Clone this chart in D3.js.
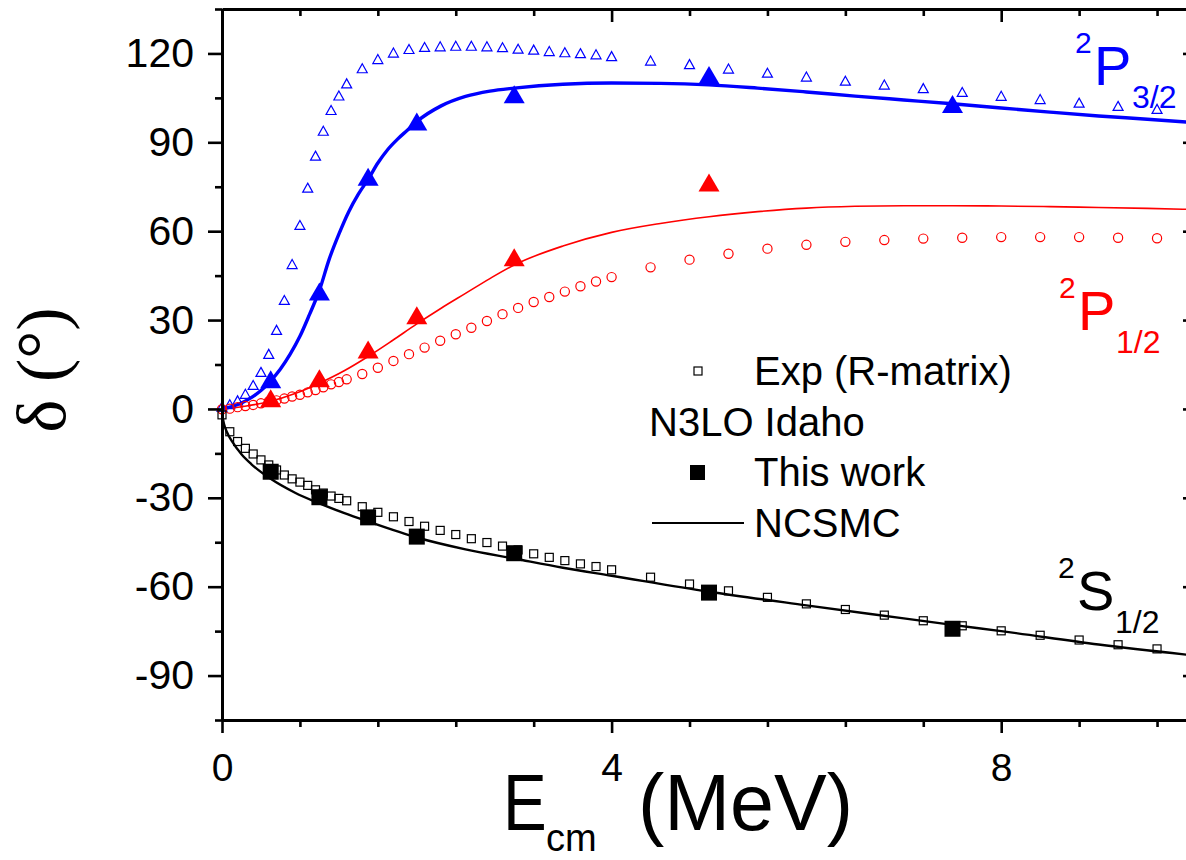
<!DOCTYPE html>
<html>
<head>
<meta charset="utf-8">
<script src="https://cdn.jsdelivr.net/npm/d3@7"></script>
<style>
	body { margin:0; background:#fff; }
	text { font-family: "Liberation Sans", Arial, sans-serif; }
</style>
</head>
<body>
<div id="chart-area"></div>
<script>
// phase shifts

// energy grid of the R-matrix points (MeV)
var expE = [0,0.08,0.16,0.24,0.32,0.40,0.48,0.56,0.64,0.72,0.80,0.88,0.96,1.04,1.12,1.20,1.28,
	1.44,1.60,1.76,1.92,2.08,2.24,2.40,2.56,2.72,2.88,3.04,3.20,3.36,3.52,3.68,3.84,
	4.0,4.4,4.8,5.2,5.6,6.0,6.4,6.8,7.2,7.6,8.0,8.4,8.8,9.2,9.6];
var expP32 = [0.8,1.6,2.9,5.1,8.1,12.5,18.6,26.7,36.8,48.9,62.1,74.7,85.5,93.9,100.9,105.8,109.9,
	115.0,118.1,120.3,121.5,122.2,122.4,122.6,122.6,122.4,122.1,121.6,121.3,120.8,120.4,120.1,119.7,
	119.1,117.6,116.4,114.9,113.5,112.2,110.8,109.5,108.3,107.0,105.7,104.6,103.4,102.3,101.3];
var expP12 = [-0.1,0.1,0.6,1.0,1.35,1.9,2.5,2.9,3.5,4.2,4.8,5.6,6.4,7.3,8.3,9.1,10.0,
	11.8,13.9,16.2,18.5,20.7,23.0,25.2,27.4,29.7,32.0,34.1,36.1,37.8,39.6,41.4,43.0,
	44.5,47.8,50.4,52.4,54.1,55.4,56.4,57.0,57.5,57.8,58.0,58.0,58.0,57.8,57.6];
var expS12 = [-2.0,-7.7,-11.0,-13.3,-15.2,-17.2,-18.9,-20.6,-22.3,-23.6,-24.7,-25.8,-27.3,-28.4,-29.4,-30.2,-31.0,
	-33.0,-34.9,-36.4,-38.0,-39.6,-41.0,-42.4,-43.8,-45.1,-46.3,-47.6,-48.9,-50.1,-51.2,-52.3,-53.2,
	-54.3,-56.8,-59.1,-61.4,-63.6,-65.8,-67.7,-69.6,-71.5,-73.2,-74.9,-76.4,-78.0,-79.6,-81.0];

// this work (N3LO Idaho)
var workE = [0.5,1.0,1.5,2.0,3.0,5.0,7.5];
var workP32 = [10.0,39.6,78.4,97.0,106.2,112.7,102.9];
var workP12 = [3.6,10.4,20.1,31.6,51.2,76.4];
var workS12 = [-21.2,-29.8,-36.6,-43.1,-48.7,-62.0,-74.2];

// NCSMC curves
var ncsmcP32E = [0,0.1,0.2,0.3,0.4,0.5,0.6,0.7,0.8,0.9,1.0,1.1,1.2,1.3,1.4,1.5,1.6,1.7,1.8,1.9,2.0,
	2.25,2.5,2.75,3.0,3.5,4.0,4.5,5.0,5.5,6.0,6.5,7.0,7.5,8.0,8.5,9.0,9.5,10];
var ncsmcP32 = [0,0.8,2.0,3.8,6.2,9.5,13.5,18.5,24.5,32,40,50.5,59,66.5,72.5,77.5,83,87.5,91,94,97,
	102.3,105.5,107.3,108.3,109.6,110.0,109.9,109.4,108.3,107.0,105.6,104.3,103.0,101.6,100.2,98.9,97.8,96.6];
var ncsmcP12E = [0,0.25,0.5,0.75,1.0,1.25,1.5,1.75,2.0,2.25,2.5,2.75,3.0,3.5,4.0,4.5,5.0,5.5,6.0,6.5,7.0,7.5,8.0,8.5,9.0,9.5,10];
var ncsmcP12 = [0,1.0,2.6,5.2,8.7,12.8,17.7,23.1,28.7,34.0,39.0,44.0,48.6,55.0,59.6,62.6,64.9,66.6,67.8,68.4,68.6,68.6,68.5,68.3,68.0,67.7,67.3];
var ncsmcS12E = [0.005,0.02,0.05,0.1,0.2,0.3,0.5,0.75,1.0,1.25,1.5,2.0,2.5,3.0,3.5,4.0,5.0,6.0,7.0,7.5,8.0,9.0,10];
var ncsmcS12 = [-2.5,-5,-7.8,-10.8,-15.3,-18.6,-23.6,-28.3,-31.9,-35.1,-38.0,-43.4,-47.4,-50.5,-53.6,-56.3,-61.7,-66.3,-70.7,-72.9,-75.0,-79.5,-83.3];

var xMajor = [0,4,8];
var yMajor = [-90,-60,-30,0,30,60,90,120];

var margin = { top:9, left:222 };
var width = 974;
var height = 711;

var svg = d3.select("#chart-area")
	.append("svg")
		.attr("width",1186)
		.attr("height",860);
svg.append("rect").attr("width",1186).attr("height",860).attr("fill","#fff");

var g = svg.append("g")
	.attr("transform","translate("+margin.left+","+margin.top+")");

var x = d3.scaleLinear().domain([0,10]).range([0,width]);
var y = d3.scaleLinear().domain([-105,135]).range([height,0]);

function zip(xs, ys){
	return ys.map(function(v,i){ return [xs[i], v]; });
}

// curves first
var line = d3.line()
	.x(function(d){ return x(d[0]); })
	.y(function(d){ return y(d[1]); })
	.curve(d3.curveMonotoneX);

g.append("path").attr("d",line(zip(ncsmcP12E,ncsmcP12)))
	.attr("fill","none").attr("stroke","#ff0000").attr("stroke-width",1.6);
g.append("path").attr("d",line(zip(ncsmcS12E,ncsmcS12)))
	.attr("fill","none").attr("stroke","#000").attr("stroke-width",2.4);
g.append("path").attr("d",line(zip(ncsmcP32E,ncsmcP32)))
	.attr("fill","none").attr("stroke","#0000ff").attr("stroke-width",3.4);

function tri(cx, cy, w, h){
	return "M"+cx+","+(cy-h/2)+"L"+(cx+w/2)+","+(cy+h/2)+"L"+(cx-w/2)+","+(cy+h/2)+"Z";
}

// experiment (open symbols)
g.selectAll(".expP32").data(zip(expE,expP32)).enter()
	.append("path")
		.attr("d",function(d){ return tri(x(d[0]),y(d[1]),10,9); })
		.attr("fill","none").attr("stroke","#0000ff").attr("stroke-width",1.2);

g.selectAll(".expP12").data(zip(expE,expP12)).enter()
	.append("circle")
		.attr("cx",function(d){ return x(d[0]); })
		.attr("cy",function(d){ return y(d[1]); })
		.attr("r",4.6)
		.attr("fill","none").attr("stroke","#ff0000").attr("stroke-width",1.2);

g.selectAll(".expS12").data(zip(expE,expS12)).enter()
	.append("rect")
		.attr("x",function(d){ return x(d[0])-4; })
		.attr("y",function(d){ return y(d[1])-4; })
		.attr("width",8).attr("height",8)
		.attr("fill","none").attr("stroke","#000").attr("stroke-width",1.2);

// this work (filled symbols)
g.selectAll(".workP32").data(zip(workE,workP32)).enter()
	.append("path")
		.attr("d",function(d){ return tri(x(d[0]),y(d[1]),21,18); })
		.attr("fill","#0000ff");

g.selectAll(".workP12").data(zip(workE,workP12)).enter()
	.append("path")
		.attr("d",function(d){ return tri(x(d[0]),y(d[1]),21,18); })
		.attr("fill","#ff0000");

g.selectAll(".workS12").data(zip(workE,workS12)).enter()
	.append("rect")
		.attr("x",function(d){ return x(d[0])-8; })
		.attr("y",function(d){ return y(d[1])-8; })
		.attr("width",16).attr("height",16)
		.attr("fill","#000");

// axes
var xMinor = d3.range(0,10.01,0.8).map(function(v){ return +v.toFixed(2); });
var yMinor = d3.range(-105,136,15);

function isMajorX(v){ return xMajor.indexOf(v) >= 0; }
function isMajorY(v){ return yMajor.indexOf(v) >= 0; }

var bottomAxis = d3.axisBottom(x).tickValues(xMinor)
	.tickSize(7).tickSizeOuter(0)
	.tickFormat(function(d){ return isMajorX(d) ? d : ""; });
var bottomG = g.append("g")
	.attr("transform","translate(0,"+height+")")
	.call(bottomAxis);

var topAxis = d3.axisBottom(x).tickValues(xMinor)
	.tickSize(7).tickSizeOuter(0).tickFormat("");
var topG = g.append("g").call(topAxis);

var leftAxis = d3.axisLeft(y).tickValues(yMinor)
	.tickSize(7).tickSizeOuter(0)
	.tickFormat(function(d){ return isMajorY(d) ? d : ""; });
var leftG = g.append("g").call(leftAxis);

// right axis, ticks point inward
var rightAxis = d3.axisLeft(y).tickValues(yMinor)
	.tickSize(7).tickSizeOuter(0).tickFormat("");
var rightG = g.append("g")
	.attr("transform","translate("+width+",0)")
	.call(rightAxis);

[bottomG, topG, leftG, rightG].forEach(function(a){
	a.select(".domain").attr("stroke","#000").attr("stroke-width",3);
	a.selectAll(".tick line").attr("stroke","#000").attr("stroke-width",2.6);
});
bottomG.selectAll(".tick line").attr("y2",function(d){ return isMajorX(d) ? 13 : 7; });
topG.selectAll(".tick line").attr("y2",function(d){ return isMajorX(d) ? 13 : 7; });
leftG.selectAll(".tick line").attr("x2",function(d){ return isMajorY(d) ? -14 : -7; });
rightG.selectAll(".tick line").attr("x2",function(d){ return isMajorY(d) ? -13 : -7; });

bottomG.selectAll(".tick text")
	.attr("font-size","39px").attr("font-family","Liberation Sans, Arial")
	.attr("fill","#000").attr("y",33).attr("dy","0.71em");
leftG.selectAll(".tick text")
	.attr("font-size","41px").attr("font-family","Liberation Sans, Arial")
	.attr("fill","#000").attr("x",-28).attr("dy","0.32em");

// axis titles
svg.append("text")
	.attr("transform","translate(65,370) rotate(-90)")
	.attr("text-anchor","middle")
	.attr("font-size","70px")
	.style("font-family","'Liberation Serif', 'Times New Roman', serif")
	.text("δ (°)");

var xt = svg.append("g");
xt.append("text").attr("transform","translate(503,830) scale(0.82,1)")
	.attr("font-size","80px").text("E");
xt.append("text").attr("x",546).attr("y",851).attr("font-size","38px").text("cm");
xt.append("text").attr("x",638).attr("y",830).attr("font-size","79px").text("(MeV)");

// channel labels
function channel(col, x0, base, big, sub){
	var t = svg.append("g").attr("fill",col);
	t.append("text").attr("x",x0).attr("y",base-32).attr("font-size","30px").text("2");
	t.append("text").attr("x",x0+19).attr("y",base).attr("font-size","56px").text(big);
	t.append("text").attr("x",x0+57).attr("y",base+23).attr("font-size","32px").text(sub);
}
channel("#0000ff",1075,85,"P","3/2");
channel("#ff0000",1059,330,"P","1/2");
channel("#000",1058,610,"S","1/2");

// legend
var leg = svg.append("g").attr("font-size","40px");
leg.append("rect").attr("x",694).attr("y",367).attr("width",8).attr("height",8)
	.attr("fill","none").attr("stroke","#000").attr("stroke-width",1.2);
leg.append("text").attr("x",754).attr("y",385).text("Exp (R-matrix)");
leg.append("text").attr("x",649).attr("y",436).text("N3LO Idaho");
leg.append("rect").attr("x",690).attr("y",465).attr("width",15).attr("height",15).attr("fill","#000");
leg.append("text").attr("x",754).attr("y",486).text("This work");
leg.append("line").attr("x1",652).attr("x2",744).attr("y1",523).attr("y2",523)
	.attr("stroke","#000").attr("stroke-width",2);
leg.append("text").attr("x",754).attr("y",537).text("NCSMC");
</script>
</body>
</html>
